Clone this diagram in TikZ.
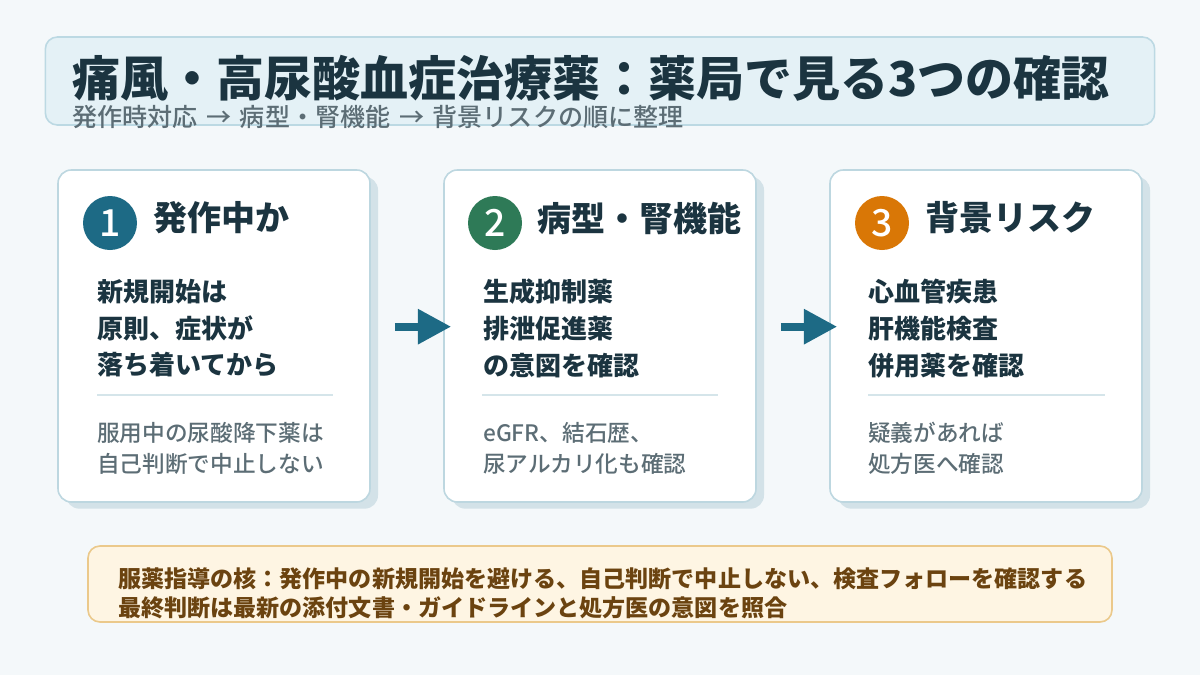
\documentclass[tikz,border=0pt]{standalone}
\usepackage{fontspec}
\setmainfont{Noto Sans CJK JP}
\newfontfamily\medfont{Noto Sans CJK JP Medium}
\usepackage{xcolor}
\usetikzlibrary{arrows.meta, positioning, shadows}
\definecolor{colBg}{HTML}{F4F8FA}
\definecolor{colTitleFill}{HTML}{E4F1F6}
\definecolor{colTitleLine}{HTML}{BCD9E3}
\definecolor{colInk}{HTML}{1B3440}
\definecolor{colGray}{HTML}{5C6D75}
\definecolor{colCardLine}{HTML}{BDD7E0}
\definecolor{colShadow}{HTML}{D3E2E8}
\definecolor{colRule}{HTML}{D5E5EA}
\definecolor{colOne}{HTML}{1D6A85}
\definecolor{colTwo}{HTML}{2E7A57}
\definecolor{colThree}{HTML}{D97706}
\definecolor{colNoteFill}{HTML}{FEF5E3}
\definecolor{colNoteLine}{HTML}{EBC98B}
\definecolor{colNoteInk}{HTML}{6B4310}
\newcommand{\gap}{\hspace{6.5pt}}

\begin{document}
\begin{tikzpicture}[
  x=0.75pt, y=-0.75pt,
  banner/.style={rectangle, draw=colTitleLine, line width=1.2pt, fill=colTitleFill, rounded corners=9pt,
                 minimum width=832pt, minimum height=66pt},
  card/.style={rectangle, draw=colCardLine, line width=1.2pt, fill=white, rounded corners=10pt,
               minimum width=234pt, minimum height=249pt,
               drop shadow={shadow xshift=6pt, shadow yshift=-5pt, fill=colShadow, opacity=1}},
  num/.style={circle, minimum size=40.5pt, inner sep=0pt, text=white, font=\fontsize{28}{28}\selectfont\medfont},
  head/.style={anchor=west, inner sep=0pt, text=colInk, font=\fontsize{25.5}{28}\selectfont\bfseries},
  body/.style={anchor=north west, inner sep=0pt, align=left, text=colInk, font=\fontsize{19.5}{27.5}\selectfont\bfseries},
  note/.style={anchor=north west, inner sep=0pt, align=left, text=colGray, font=\fontsize{17}{23.5}\medfont},
  rule/.style={draw=colRule, line width=1pt},
  flow/.style={-{Triangle[length=25pt, width=25pt]}, line width=6pt, colOne, shorten <=18pt, shorten >=-6pt},
  keybox/.style={rectangle, draw=colNoteLine, line width=1.2pt, fill=colNoteFill, rounded corners=9pt,
                 minimum width=768pt, minimum height=57pt},
]
\useasboundingbox (0,0) rectangle (1200,675);
\fill[colBg] (0,0) rectangle (1200,675);

% title
\node[banner] (banner) at (600,81) {};
\node[anchor=west, inner sep=0pt, text=colInk, font=\fontsize{36}{40}\selectfont\bfseries] (title) at (72,78)
  {痛風・高尿酸血症治療薬：薬局で見る3つの確認};
\node[anchor=west, inner sep=0pt, text=colGray, font=\fontsize{18.8}{20}\medfont] (subtitle) at (72,117)
  {発作時対応\gap{}→\gap{}病型・腎機能\gap{}→\gap{}背景リスクの順に整理};

% cards
\node[card] (c1) at (214,336) {};
\node[card] (c2) at (600,336) {};
\node[card] (c3) at (986,336) {};

\node[num, fill=colOne] (n1) at (110,223) {1};
\node[head] (h1) at (153,218) {発作中か};
\node[body] (b1) at (97,279) {新規開始は\\原則、症状が\\落ち着いてから};
\draw[rule] (97,395) -- (333,395);
\node[note] (m1) at (97,422) {服用中の尿酸降下薬は\\自己判断で中止しない};

\node[num, fill=colTwo] (n2) at (495,223) {2};
\node[head] (h2) at (537,218) {病型・腎機能};
\node[body] (b2) at (483,279) {生成抑制薬\\排泄促進薬\\の意図を確認};
\draw[rule] (482,395) -- (718,395);
\node[note] (m2) at (483,422) {eGFR、結石歴、\\尿アルカリ化も確認};

\node[num, fill=colThree] (n3) at (882,223) {3};
\node[head] (h3) at (925,218) {背景リスク};
\node[body] (b3) at (868,279) {心血管疾患\\肝機能検査\\併用薬を確認};
\draw[rule] (868,395) -- (1105,395);
\node[note] (m3) at (868,422) {疑義があれば\\処方医へ確認};

\draw[flow] ([yshift=7pt]c1.east) -- ([yshift=7pt]c2.west);
\draw[flow] ([yshift=7pt]c2.east) -- ([yshift=7pt]c3.west);

% key points
\node[keybox] (key) at (600,584) {};
\node[anchor=north west, inner sep=0pt, align=left, text=colNoteInk,
      font=\fontsize{17.3}{21.8}\selectfont\bfseries] (keytext) at (118,567)
  {服薬指導の核：発作中の新規開始を避ける、自己判断で中止しない、検査フォローを確認する\\
   最終判断は最新の添付文書・ガイドラインと処方医の意図を照合};
\end{tikzpicture}
\end{document}
